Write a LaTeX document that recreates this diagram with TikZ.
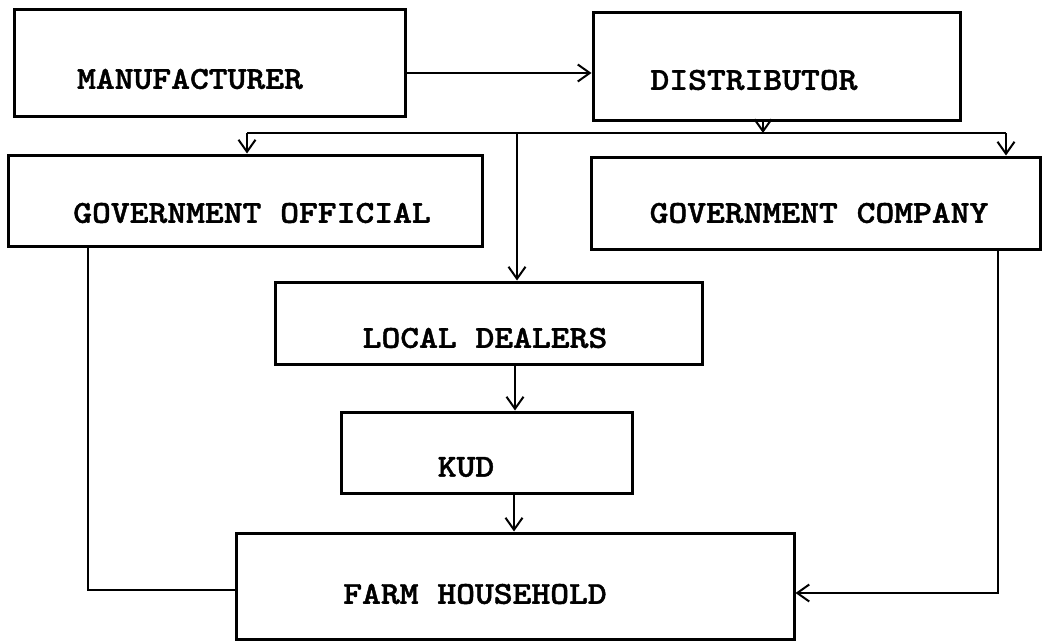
\documentclass[tikz,border=0pt]{standalone}
\usepackage{fontspec}
\usetikzlibrary{arrows.meta}
% slab-serif typewriter lettering, set a little wider and heavier than the plain face
\newfontfamily\twfont{lmmonolt10-bold.otf}[FakeBold=1.2]
\newcommand\tw[1]{\scalebox{1.12}[1]{#1}}

\begin{document}
\begin{tikzpicture}[x=1pt,y=-1pt,
  box/.style={draw, line width=3pt, inner sep=0pt},
  flow/.style={line width=2pt},
  arr/.style={flow, -{Straight Barb[length=12pt,width=17pt,line width=2pt]}},
  lbl/.style={font=\twfont\fontsize{32}{36}\selectfont, inner sep=0pt}]
\useasboundingbox (0,0) rectangle (1042,642);

% boxes
\node[box, minimum width=391pt, minimum height=106pt] (man)  at (209.5,63)  {};
\node[box, minimum width=367pt, minimum height=107pt] (dist) at (776.5,66.5) {};
\node[box, minimum width=474pt, minimum height=91pt]  (go)   at (245,200.5) {};
\node[box, minimum width=449pt, minimum height=92pt]  (gc)   at (815.5,203) {};
\node[box, minimum width=427pt, minimum height=82pt]  (ld)   at (488.5,323) {};
\node[box, minimum width=291pt, minimum height=81pt]  (kud)  at (486.5,452.5) {};
\node[box, minimum width=558pt, minimum height=106pt] (fh)   at (515,586)   {};

% box texts
\node[lbl] (tman)  at (190,79)  {\tw{MANUFACTURER}};
\node[lbl] (tdist) at (754,80)  {\tw{DISTRIBUTOR}};
\node[lbl] (tgo)   at (252,213) {\tw{GOVERNMENT OFFICIAL}};
\node[lbl] (tgc)   at (819,213) {\tw{GOVERNMENT COMPANY}};
\node[lbl] (tld)   at (485,338) {\tw{LOCAL DEALERS}};
\node[lbl] (tkud)  at (466,467) {\tw{KUD}};
\node[lbl] (tfh)   at (475,594) {\tw{FARM HOUSEHOLD}};

% distribution bus below the distributor
\coordinate (busL) at (247,133);
\coordinate (busM) at (517,133);
\coordinate (busD) at (763,133);
\coordinate (busR) at (1006,133);
\coordinate (colLK) at (515,0);
\coordinate (colKF) at (514,0);
\coordinate (gl) at (88,590);
\coordinate (gr) at (998,593);

% connectors
\draw[arr] ([yshift=-10pt]man.east) -- ([yshift=-10pt]man.east -| dist.west);
\draw[arr] (dist.south -| busD) -- (busD);
\draw[flow] (busL) -- (busR);
\draw[arr] (busL) -- (busL |- go.north);
\draw[arr] (busR) -- (busR |- gc.north);
\draw[arr] (busM) -- (busM |- ld.north);
\draw[arr] (ld.south -| colLK) -- (kud.north -| colLK);
\draw[arr] (kud.south -| colKF) -- (fh.north -| colKF);
\draw[flow] (go.south -| gl) |- (fh.west |- gl);
\draw[arr] (gc.south -| gr) |- (fh.east |- gr);
\end{tikzpicture}
\end{document}
